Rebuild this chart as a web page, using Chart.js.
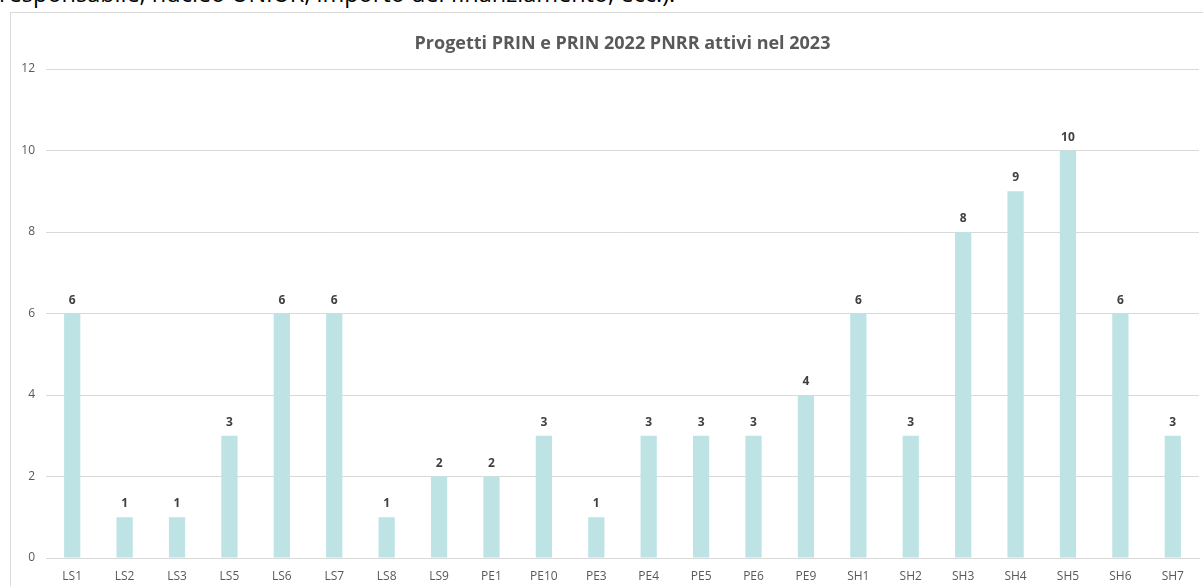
<!DOCTYPE html>
<html>
<head>
<meta charset="utf-8">
<script src="https://cdn.jsdelivr.net/npm/chart.js@4/dist/chart.umd.min.js"></script>
<style>
  html, body { margin: 0; padding: 0; background: #fff; overflow: hidden; }
  body { width: 1203px; height: 586px; position: relative; }
  #doc-text {
    position: absolute; left: -1px; top: -18px; line-height: 1;
    font-family: "Open Sans", sans-serif; font-size: 23.5px; color: #000; white-space: nowrap;
  }
  #frame {
    position: absolute; left: 10px; top: 12px; width: 1200px; height: 600px;
    border-left: 1px solid #d9d9d9; border-top: 1px solid #d9d9d9;
  }
  #wrap { position: absolute; left: 0; top: 0; width: 1203px; height: 586px; }
</style>
</head>
<body>
<div id="doc-text">responsabile, nucleo UNIUR, importo del finanziamento, ecc.).</div>
<div id="frame"></div>
<div id="wrap"><canvas id="chart"></canvas></div>
<script>
// --- Data ---
const categories = ['LS1', 'LS2', 'LS3', 'LS5', 'LS6', 'LS7', 'LS8', 'LS9', 'PE1', 'PE10', 'PE3',
  'PE4', 'PE5', 'PE6', 'PE9', 'SH1', 'SH2', 'SH3', 'SH4', 'SH5', 'SH6', 'SH7'];
const progetti = [6, 1, 1, 3, 6, 6, 1, 2, 2, 3, 1, 3, 3, 3, 4, 6, 3, 8, 9, 10, 6, 3];
const yTicks = [0, 2, 4, 6, 8, 10, 12];
const chartTitle = 'Progetti PRIN e PRIN 2022 PNRR attivi nel 2023';

// value labels above each bar + title centred on the plot area (like Excel)
const extras = {
  id: 'extras',
  afterDatasetsDraw(chart) {
    const ctx = chart.ctx;
    const meta = chart.getDatasetMeta(0);
    ctx.save();
    ctx.font = 'bold 12px "Open Sans", sans-serif';
    ctx.fillStyle = '#404040';
    ctx.textAlign = 'center';
    ctx.textBaseline = 'alphabetic';
    meta.data.forEach((bar, i) => {
      ctx.fillText(String(progetti[i]), bar.x, bar.y - 10);
    });

    const area = chart.chartArea;
    ctx.font = 'bold 18px "Open Sans", sans-serif';
    ctx.fillStyle = '#595959';
    ctx.textBaseline = 'middle';
    ctx.fillText(chartTitle, (area.left + area.right) / 2, area.top - 25);
    ctx.restore();
  }
};

new Chart(document.getElementById('chart'), {
  type: 'bar',
  data: {
    labels: categories,
    datasets: [{
      label: 'Progetti',
      data: progetti,
      backgroundColor: '#bde3e5',
      categoryPercentage: 1,
      barPercentage: 0.31
    }]
  },
  options: {
    responsive: true, maintainAspectRatio: false, animation: false,
    layout: { padding: { top: 69, right: 4, bottom: 0, left: 0 } },
    scales: {
      x: {
        afterFit(scale) { scale.height = 28; },
        grid: { display: false, drawTicks: false },
        border: { color: '#d9d9d9', width: 1 },
        ticks: { color: '#595959', padding: 11, maxRotation: 0, autoSkip: false,
          font: { family: '"Open Sans", sans-serif', size: 12 } }
      },
      y: {
        min: 0, max: 12,
        afterFit(scale) { scale.width = 46; },
        afterBuildTicks(scale) { scale.ticks = yTicks.map(v => ({ value: v })); },
        grid: { color: '#d9d9d9', drawTicks: false },
        border: { display: false },
        ticks: { color: '#595959', padding: 11,
          font: { family: '"Open Sans", sans-serif', size: 12 } }
      }
    },
    plugins: {
      legend: { display: false },
      tooltip: { enabled: false },
      title: { display: false }
    }
  },
  plugins: [extras]
});
</script>
</body>
</html>
